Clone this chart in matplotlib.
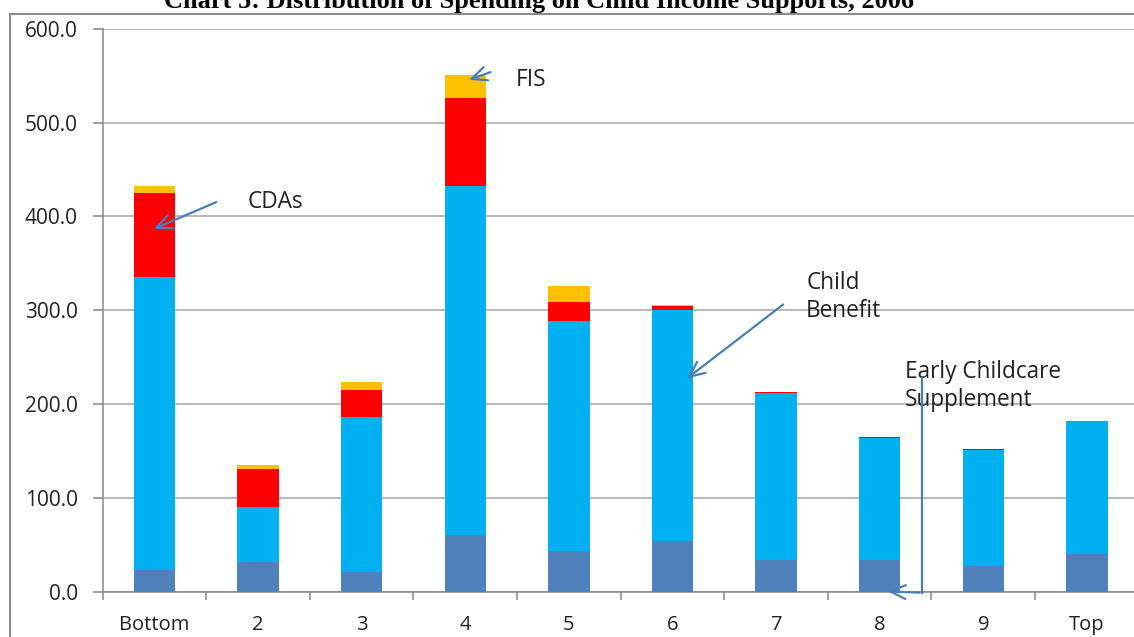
import matplotlib
matplotlib.use("Agg")
import matplotlib.pyplot as plt
from matplotlib.patches import Rectangle
from matplotlib.lines import Line2D

# Income deciles
deciles = ["Bottom", "2", "3", "4", "5", "6", "7", "8", "9", "Top"]

# Spending by programme (stacked bottom to top)
early_childcare = [23, 31, 21, 60, 43, 54, 34, 34, 27, 40]
child_benefit = [312, 59, 165, 372, 246, 246, 178, 130, 124, 142]
cdas = [90, 41, 29, 94, 20, 5, 1, 0.8, 0.7, 0]
fis = [7, 4, 8, 25, 17, 1, 0, 0, 0, 0]

y_ticks = [0, 100, 200, 300, 400, 500, 600]

C_ECS = "#4f81bd"
C_CB = "#00b0f0"
C_CDA = "#ff0000"
C_FIS = "#ffc000"
ARROW = "#4a7ebb"
GRID = "#a6a6a6"
AXIS = "#868686"

W, H = 1134, 637
fig = plt.figure(figsize=(W / 100, H / 100), dpi=100)

# plot area in pixels: left 102.7, right 1138.7, top 29, bottom 591.5
left, right, top, bottom = 102.7, 1138.7, 29.0, 591.5
ax = fig.add_axes([left / W, 1 - bottom / H, (right - left) / W, (bottom - top) / H])

x = list(range(len(deciles)))
bw = 0.40
b1 = early_childcare
b2 = [a + b for a, b in zip(b1, child_benefit)]
b3 = [a + b for a, b in zip(b2, cdas)]
ax.bar(x, early_childcare, width=bw, color=C_ECS, zorder=3)
ax.bar(x, child_benefit, width=bw, bottom=b1, color=C_CB, zorder=3)
ax.bar(x, cdas, width=bw, bottom=b2, color=C_CDA, zorder=3)
ax.bar(x, fis, width=bw, bottom=b3, color=C_FIS, zorder=3)

ax.set_xlim(-0.5, len(deciles) - 0.5)
ax.set_ylim(0, 600)
ax.set_yticks(y_ticks)
ax.set_yticklabels([f"{v:.1f}" for v in y_ticks])
ax.yaxis.grid(True, color=GRID, linewidth=1.1, zorder=0)
ax.set_axisbelow(True)

ax.set_xticks(x)
ax.set_xticklabels(deciles)
ax.set_xticks([i - 0.5 for i in range(len(deciles) + 1)], minor=True)
ax.tick_params(axis="x", which="major", length=0, pad=17, labelsize=14.5, labelcolor="#222222")
ax.tick_params(axis="x", which="minor", length=6, color=AXIS, width=1.1)
ax.tick_params(axis="y", length=7, color=AXIS, width=1.1, pad=11, labelsize=15, labelcolor="#222222")
for lbl in ax.get_xticklabels() + ax.get_yticklabels():
    lbl.set_fontfamily("Open Sans")

for s in ["top", "right"]:
    ax.spines[s].set_visible(False)
for s in ["left", "bottom"]:
    ax.spines[s].set_color(AXIS)
    ax.spines[s].set_linewidth(1.1)

# chart frame
fig.patches.append(Rectangle((10 / W, -0.1), 1.2, 1 - 13.5 / H + 0.1, transform=fig.transFigure,
                             fill=False, edgecolor="#8c8c8c", linewidth=1.5, zorder=0))

txt = dict(fontsize=16.3, fontfamily="Open Sans", color="#222222", va="center", ha="left", zorder=6)
arr = dict(arrowstyle="->,head_length=1.1,head_width=0.5", color=ARROW, lw=1.6)

ax.text(0.90, 415, "CDAs", **txt)
ax.annotate("", xy=(-0.03, 385.6), xytext=(0.62, 416.5), arrowprops=arr, zorder=6)

ax.text(3.49, 545.6, "FIS", **txt)
ax.annotate("", xy=(3.01, 544.9), xytext=(3.27, 555), arrowprops=arr, zorder=6)

ax.text(6.29, 329, "Child", **txt)
ax.text(6.29, 299, "Benefit", **txt)
ax.annotate("", xy=(5.12, 225.6), xytext=(6.09, 308), arrowprops=arr, zorder=6)

ax.text(7.24, 234.5, "Early Childcare", **txt)
ax.text(7.24, 204, "Supplement", **txt)
ax.add_line(Line2D([7.41, 7.41], [227.7, -1.3], color=ARROW, lw=1.6, zorder=6, clip_on=False))
ax.annotate("", xy=(7.05, 0.3), xytext=(7.41, -1.3), arrowprops=arr, zorder=6,
            annotation_clip=False)

fig.text(539 / W, 1 - 8 / H, "Chart 5: Distribution of Spending on Child Income Supports, 2006",
         fontfamily="Liberation Serif", fontweight="bold", fontsize=19, ha="center",
         va="baseline", color="black")

fig.savefig("out.png", dpi=100)
